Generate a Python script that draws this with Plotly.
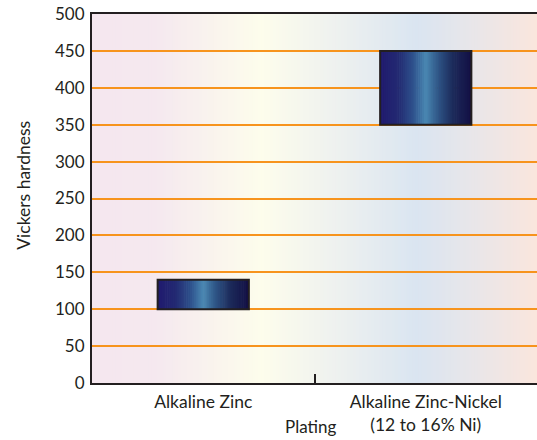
import plotly.graph_objects as go
from plotly.colors import sample_colorscale

# Hardness ranges for each plating type
categories = ["Alkaline Zinc", "Alkaline Zinc-Nickel<br>(12 to 16% Ni)"]
hardness_low = [100, 350]
hardness_high = [140, 450]
y_ticks = [0, 50, 100, 150, 200, 250, 300, 350, 400, 450, 500]

INK = "#231F20"
FONT = "Lato"

# Horizontal shading for the bars (dark edges, light centre)
bar_scale = [
    [0.0, "#201A6E"], [0.2, "#232A72"], [0.36, "#2E518C"], [0.5, "#4A88B3"],
    [0.63, "#2F5687"], [0.8, "#1C2A5A"], [1.0, "#120F44"],
]
# Soft background wash across the plot area
bg_scale = [
    [0.0, "#F5E7EF"], [0.14, "#F5E8EF"], [0.38, "#FDFDEC"], [0.55, "#EEF1EF"],
    [0.73, "#DAE5F1"], [0.86, "#E9E6E9"], [1.0, "#FAE6DD"],
]

BAR_W = 0.41
N_STRIPS = 48
strip_w = BAR_W / N_STRIPS

heights = [h - l for h, l in zip(hardness_high, hardness_low)]

fig = go.Figure()

strip_colors = sample_colorscale(bar_scale, [(i + 0.5) / N_STRIPS for i in range(N_STRIPS)])
for i, c in enumerate(strip_colors):
    fig.add_trace(go.Bar(
        x=categories, y=heights, base=hardness_low,
        width=strip_w * 1.35 if i < N_STRIPS - 1 else strip_w,
        offset=-BAR_W / 2 + i * strip_w,
        marker=dict(color=c, line=dict(width=0)),
        hoverinfo="skip", showlegend=False,
    ))

# Outline around each bar
fig.add_trace(go.Bar(
    x=categories, y=heights, base=hardness_low, width=BAR_W,
    marker=dict(color="rgba(0,0,0,0)", line=dict(color=INK, width=2)),
    hoverinfo="skip", showlegend=False,
))

# Background strips below the gridlines
N_BG = 150
bg_colors = sample_colorscale(bg_scale, [(i + 0.5) / N_BG for i in range(N_BG)])
shapes = []
for i, c in enumerate(bg_colors):
    shapes.append(dict(
        type="rect", xref="x domain", yref="y domain",
        x0=i / N_BG, x1=min(1.0, (i + 1.6) / N_BG), y0=0, y1=1,
        fillcolor=c, line=dict(width=0), layer="below",
    ))

fig.update_layout(
    width=537, height=440,
    margin=dict(l=92, r=0, t=14, b=57),
    paper_bgcolor="white", plot_bgcolor="white",
    barmode="overlay",
    shapes=shapes,
    font=dict(family=FONT, color=INK, size=17),
    xaxis=dict(
        range=[-0.5, 1.5], tickson="boundaries",
        ticks="inside", ticklen=9, tickwidth=1.5, tickcolor=INK,
        showline=True, linecolor=INK, linewidth=2, mirror=True,
        showgrid=False, ticklabelstandoff=2,
        tickfont=dict(size=17.5, family=FONT, color=INK),
    ),
    yaxis=dict(
        range=[0, 500], tickvals=y_ticks,
        showline=True, linecolor=INK, linewidth=2,
        showgrid=True, gridcolor="#F7941D", gridwidth=2,
        zeroline=False, ticks="", ticklabelstandoff=2,
        tickfont=dict(size=17, family=FONT, color=INK),
    ),
    annotations=[
        dict(
            text="Plating", xref="paper", yref="paper",
            x=0.492, y=-0.118, xanchor="center", yanchor="middle",
            showarrow=False, font=dict(size=17, family=FONT, color=INK),
        ),
        dict(
            text="Vickers hardness", xref="paper", yref="paper",
            x=-0.153, y=0.537, xanchor="center", yanchor="middle",
            textangle=-90, showarrow=False,
            font=dict(size=17.5, family=FONT, color=INK),
        ),
    ],
)

fig.write_html("out.html")
